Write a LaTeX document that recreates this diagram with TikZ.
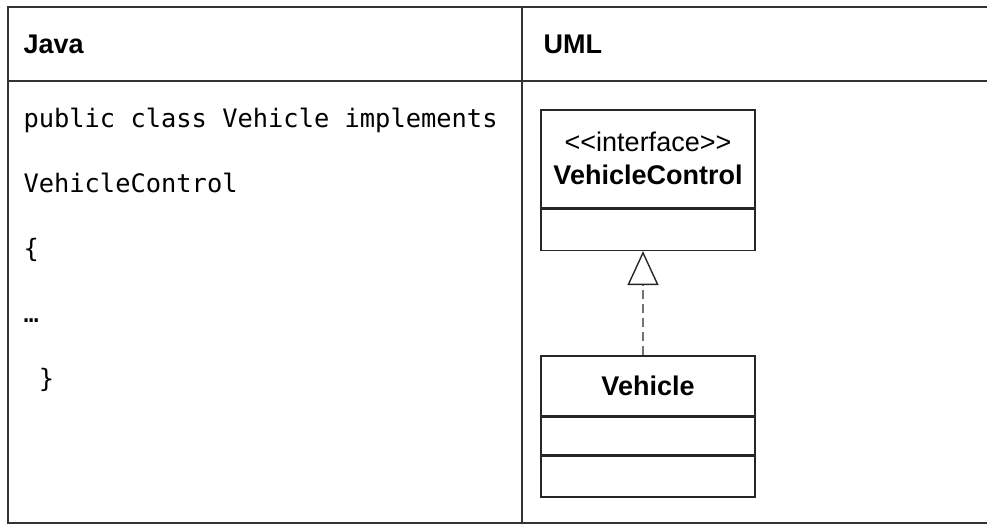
\documentclass[tikz,border=0pt]{standalone}
\usepackage{fontspec}
\newfontfamily\umlsans{Liberation Sans}
\newfontfamily\javamono{DejaVu Sans Mono}
\usetikzlibrary{arrows.meta}

\begin{document}
\begin{tikzpicture}[x=1pt, y=-1pt, font=\umlsans\fontsize{27}{30}\selectfont,
	grid/.style={color=black!80, line width=2pt},
	box/.style={draw=black!85, line width=1.4pt, minimum width=214pt, inner sep=0pt},
	code/.style={anchor=base west, font=\javamono\fontsize{25.4}{30}\selectfont},
	head/.style={anchor=base west, font=\umlsans\bfseries\fontsize{27}{30}\selectfont}]
	\useasboundingbox (0,0) rectangle (987,525);
	% table frame
	\draw[grid] (992,7) -- (8,7) -- (8,523) -- (992,523);
	\draw[grid] (8,81) -- (992,81);
	\draw[grid, line width=1.5pt] (522,7) -- (522,523);
	\node (javaHead) [head] at (20,53) {Java};
	\node (umlHead) [head] at (540,53) {UML};
	% java side
	\node (line1) [code] at (20,127) {public class Vehicle implements};
	\node (line2) [code] at (20,192) {VehicleControl};
	\node (line3) [code] at (20,257) {\{};
	\node (line4) [code] at (20,322) {…};
	\node (line5) [code] at (20,387) {\ \}};
	% uml side
	\node (vcName) [box, minimum height=98pt] at (648,159) {};
	\node (vcBody) [box, minimum height=41pt, anchor=north] at (vcName.south) {};
	\node (vcStereo) [anchor=base] at (648,151) {<\kern0pt<interface>\kern0pt>};
	\node (vcLabel) [anchor=base, font=\umlsans\bfseries\fontsize{27}{30}\selectfont] at (648,184) {VehicleControl};
	\node (vehName) [box, minimum height=60pt] at (648,386) {};
	\node (vehAttr) [box, minimum height=37pt, anchor=north] at (vehName.south) {};
	\node (vehOps) [box, minimum height=41pt, anchor=north] at (vehAttr.south) {};
	\node (vehLabel) [anchor=base, font=\umlsans\bfseries\fontsize{27}{30}\selectfont] at (648,395) {Vehicle};
	\draw[color=black!55, line width=1.4pt, dash pattern=on 9pt off 5pt,
		-{Triangle[open, length=34pt, width=31pt, color=black!85]}]
		([xshift=-5pt]vehName.north) -- ([xshift=-5pt]vcBody.south);
\end{tikzpicture}
\end{document}
